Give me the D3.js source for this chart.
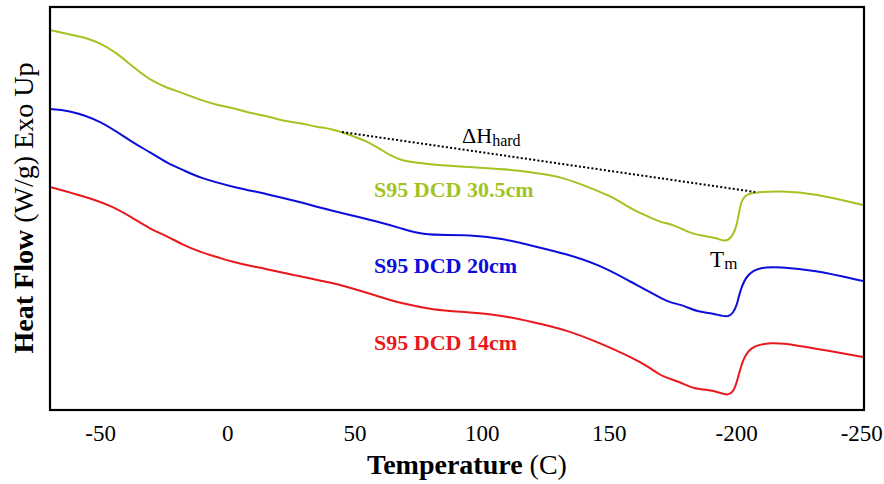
<html lang="en">
  <head>
    <meta charset="utf-8" />
    <title>DSC heat flow</title>
    <script src="https://d3js.org/d3.v7.min.js"></script>
    <style>
      body { margin: 0; background: #ffffff; }
      svg text { font-family: "Liberation Serif", "Times New Roman", serif !important; }
    </style>
  </head>
  <body>
    <div id="svgContainer"></div>
  </body>
  <script>
    var width = 884,
        height = 484;

    // Temperature ticks (labels as printed on the original figure)
    var tickValues = [-50, 0, 50, 100, 150, 200, 250];
    var tickLabels = ["-50", "0", "50", "100", "150", "-200", "-250"];

    // Heat flow traces, [temperature C, heat flow (offset, arbitrary units)]
    var s95_305 = [
      [-69.7,3.80],[-56.7,3.73],[-50.0,3.67],[-43.4,3.57],[-37.1,3.43],[-30.4,3.30],[-23.7,3.22],
      [-17.4,3.17],[-10.7,3.10],[-4.0,3.05],[2.2,3.02],[8.9,2.97],[15.6,2.94],[21.9,2.89],[28.6,2.87],
      [35.3,2.83],[41.5,2.81],[48.2,2.75],[54.9,2.69],[61.2,2.59],[63.9,2.55],[67.9,2.50],[74.6,2.47],
      [87.5,2.44],[100.5,2.42],[113.9,2.40],[126.9,2.35],[133.5,2.31],[139.8,2.25],[146.5,2.18],
      [151.6,2.13],[159.5,2.00],[165.0,1.94],[170.1,1.88],[174.1,1.86],[178.0,1.82],[181.9,1.77],
      [187.0,1.74],[192.6,1.72],[195.7,1.68],[198.5,1.73],[200.4,1.85],[201.6,2.05],[202.8,2.12],
      [204.4,2.16],[208.3,2.18],[217.3,2.19],[230.3,2.17],[249.9,2.05]
    ];
    var s95_20 = [
      [-69.7,3.01],[-63.0,3.00],[-50.0,2.90],[-37.1,2.67],[-30.4,2.58],[-23.7,2.47],[-17.4,2.40],
      [-10.7,2.32],[2.2,2.23],[15.6,2.16],[28.6,2.08],[35.3,2.03],[48.2,1.95],[61.2,1.87],[67.9,1.82],
      [76.9,1.75],[87.5,1.75],[94.2,1.75],[107.2,1.72],[120.2,1.64],[133.5,1.56],[146.5,1.45],
      [159.5,1.27],[166.2,1.18],[172.9,1.08],[179.2,1.05],[184.7,0.98],[191.0,0.97],[196.5,0.92],
      [198.9,0.97],[200.4,1.05],[201.6,1.20],[204.4,1.36],[209.4,1.43],[217.3,1.43],[230.3,1.40],
      [249.9,1.29]
    ];
    var s95_14 = [
      [-69.7,2.23],[-56.7,2.14],[-46.1,2.05],[-37.1,1.92],[-30.4,1.81],[-23.7,1.74],[-17.4,1.65],
      [-10.7,1.58],[-4.0,1.53],[2.2,1.48],[8.9,1.44],[15.6,1.41],[21.9,1.37],[28.6,1.34],[35.3,1.30],
      [48.2,1.23],[61.2,1.12],[67.9,1.07],[80.9,1.00],[94.2,0.98],[107.2,0.95],[120.2,0.88],
      [133.5,0.80],[146.5,0.67],[159.5,0.52],[165.0,0.44],[170.1,0.35],[172.9,0.32],[178.0,0.28],
      [183.1,0.21],[191.0,0.20],[196.5,0.14],[198.9,0.18],[200.4,0.28],[202.8,0.53],[206.7,0.65],
      [214.5,0.67],[217.3,0.67],[230.3,0.62],[249.9,0.53]
    ];

    // Melting enthalpy baseline for the 30.5cm trace
    var hardBaseline = [[45.1, 2.78], [207.5, 2.18]];

    var series = [
      {"name": "S95 DCD 30.5cm", "data": s95_305, "color": "#a2c423", "lx": 57.7, "ly": 2.13},
      {"name": "S95 DCD 20cm",   "data": s95_20,  "color": "#0c0cdc", "lx": 57.7, "ly": 1.37},
      {"name": "S95 DCD 14cm",   "data": s95_14,  "color": "#e8181c", "lx": 57.7, "ly": 0.60}
    ];

    var plot = {left: 50, top: 7, right: 864, bottom: 410};

    var x = d3.scaleLinear().domain([-69.7, 250.3]).range([plot.left, plot.right]);
    var y = d3.scaleLinear().domain([0, 4.03]).range([plot.bottom, plot.top]);

    //Create SVG element
    var svg = d3.select("#svgContainer")
                .append("svg")
                .attr("width", width)
                .attr("height", height);

    svg.append("defs").append("clipPath")
       .attr("id", "plotClip")
       .append("rect")
       .attr("x", plot.left).attr("y", plot.top)
       .attr("width", plot.right - plot.left)
       .attr("height", plot.bottom - plot.top);

    var line = d3.line()
                 .x(function(d) { return x(d[0]); })
                 .y(function(d) { return y(d[1]); })
                 .curve(d3.curveBasis);

    // Traces
    svg.append("g")
       .attr("clip-path", "url(#plotClip)")
       .selectAll("path.trace")
       .data(series)
       .enter().append("path")
       .attr("class", "trace")
       .attr("d", function(d) { return line(d.data); })
       .attr("fill", "none")
       .attr("stroke", function(d) { return d.color; })
       .attr("stroke-width", 2);

    // Dotted baseline
    svg.append("path")
       .attr("d", d3.line().x(function(d) { return x(d[0]); }).y(function(d) { return y(d[1]); })(hardBaseline))
       .attr("fill", "none")
       .attr("stroke", "#000")
       .attr("stroke-width", 2)
       .attr("stroke-dasharray", "2,2.2");

    // Series labels
    svg.selectAll("text.seriesLabel")
       .data(series)
       .enter().append("text")
       .attr("class", "seriesLabel")
       .attr("x", function(d) { return x(d.lx); })
       .attr("y", function(d) { return y(d.ly); })
       .attr("fill", function(d) { return d.color; })
       .attr("font-size", 22)
       .attr("font-weight", "bold")
       .text(function(d) { return d.name; });

    // Annotations
    var dh = svg.append("text")
                .attr("x", x(92.3)).attr("y", y(2.67))
                .attr("font-size", 22);
    dh.append("tspan").text("\u0394H");
    dh.append("tspan").attr("font-size", 16).attr("dy", 3).text("hard");

    var tm = svg.append("text")
                .attr("x", x(189.8)).attr("y", y(1.43))
                .attr("font-size", 23);
    tm.append("tspan").text("T");
    tm.append("tspan").attr("font-size", 17).attr("dy", 1.5).text("m");

    // Frame
    svg.append("rect")
       .attr("x", plot.left).attr("y", plot.top)
       .attr("width", plot.right - plot.left)
       .attr("height", plot.bottom - plot.top)
       .attr("fill", "none")
       .attr("stroke", "#000")
       .attr("stroke-width", 2.2);

    // X axis
    var xAxis = d3.axisBottom(x)
                  .tickValues(tickValues)
                  .tickFormat(function(d, i) { return tickLabels[i]; })
                  .tickSize(0)
                  .tickPadding(15);

    var gx = svg.append("g")
                .attr("transform", "translate(0," + plot.bottom + ")")
                .call(xAxis);
    gx.attr("font-family", null).attr("font-size", null);
    gx.select(".domain").remove();
    gx.selectAll("text")
      .style("font-size", "23px")
      .attr("fill", "#000");
    // keep the last label inside the canvas
    gx.selectAll(".tick:last-of-type text").attr("dx", -2);

    // Axis titles
    var xt = svg.append("text")
                .attr("x", 467).attr("y", 474)
                .attr("text-anchor", "middle")
                .attr("font-size", 28);
    xt.append("tspan").attr("font-weight", "bold").text("Temperature");
    xt.append("tspan").text(" (C)");

    var yt = svg.append("text")
                .attr("transform", "translate(33,208) rotate(-90)")
                .attr("text-anchor", "middle")
                .attr("font-size", 28);
    yt.append("tspan").attr("font-weight", "bold").text("Heat Flow");
    yt.append("tspan").text(" (W/g) Exo Up");
  </script>
</html>
